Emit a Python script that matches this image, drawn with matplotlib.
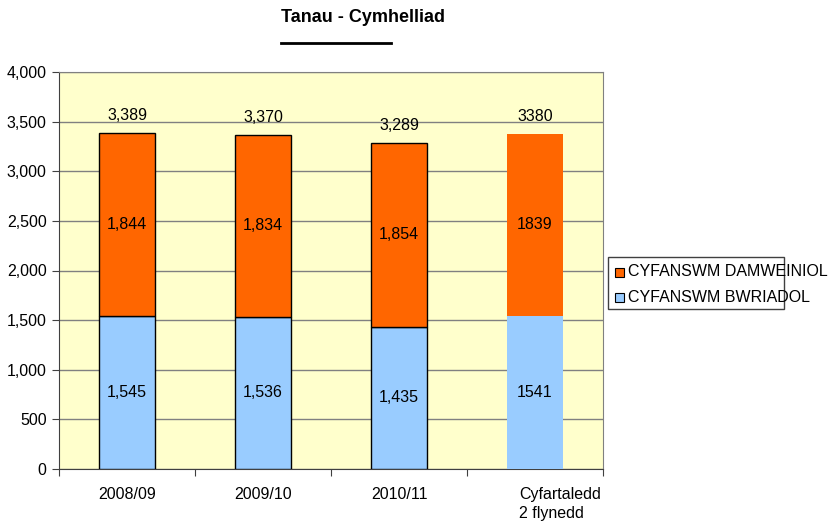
import matplotlib
matplotlib.use("Agg")
import matplotlib.pyplot as plt
from matplotlib.patches import Rectangle
from matplotlib.lines import Line2D
from matplotlib.transforms import ScaledTranslation

plt.rcParams['font.family'] = ['Liberation Sans', 'DejaVu Sans']

categories = ["2008/09", "2009/10", "2010/11", "Cyfartaledd\n2 flynedd"]
bwriadol = [1545, 1536, 1435, 1541]
damweiniol = [1844, 1834, 1854, 1839]
totals = [3389, 3370, 3289, 3380]
bwriadol_labels = ["1,545", "1,536", "1,435", "1541"]
damweiniol_labels = ["1,844", "1,834", "1,854", "1839"]
total_labels = ["3,389", "3,370", "3,289", "3380"]
yticks = [0, 500, 1000, 1500, 2000, 2500, 3000, 3500, 4000]

blue = "#99CCFF"
orange = "#FF6600"
fs = 11.5

fig = plt.figure(figsize=(8.3, 5.22), dpi=100)
ax = fig.add_axes([59/830, 53/522, 544/830, 397/522])
ax.set_facecolor("#FFFFCC")

x = list(range(len(categories)))
w = 0.41
edges = ["black", "black", "black", "none"]
for i in x:
    ax.bar(i, bwriadol[i], width=w, color=blue, edgecolor=edges[i], linewidth=1.0, zorder=3)
    ax.bar(i, damweiniol[i], bottom=bwriadol[i], width=w, color=orange, edgecolor=edges[i], linewidth=1.0, zorder=3)
    ax.text(i, bwriadol[i] / 2, bwriadol_labels[i], ha="center", va="center", fontsize=fs, zorder=4)
    ax.text(i, bwriadol[i] + damweiniol[i] / 2, damweiniol_labels[i], ha="center", va="center", fontsize=fs, zorder=4)
    ax.text(i, totals[i] + 170, total_labels[i], ha="center", va="center", fontsize=fs, zorder=4)

ax.set_xlim(-0.5, 3.5)
ax.set_ylim(0, 4000)
ax.set_yticks(yticks)
ax.set_yticklabels([f"{v:,}" for v in yticks], fontsize=fs)
ax.yaxis.grid(True, color="#808080", linewidth=1.0, zorder=1)
ax.set_axisbelow(True)
ax.set_xticks([-0.5, 0.5, 1.5, 2.5, 3.5])
ax.set_xticklabels([])
ax.set_xticks(x, minor=True)
ax.set_xticklabels(categories, minor=True, fontsize=fs, linespacing=1.3)
ax.tick_params(axis="x", which="minor", length=0, pad=13)
ax.tick_params(axis="x", which="major", length=5, direction="out", color="#404040")
ax.tick_params(axis="y", length=5, direction="out", color="#404040", pad=4)
last = ax.get_xticklabels(minor=True)[-1]
last.set_horizontalalignment("left")
last.set_multialignment("left")
last.set_transform(last.get_transform() + ScaledTranslation(-16/100, 0, fig.dpi_scale_trans))
for s in ["top", "right"]:
    ax.spines[s].set_color("#808080")
for s in ["left", "bottom"]:
    ax.spines[s].set_color("#404040")

fig.text(363/830, 1 - 17/522, "Tanau - Cymhelliad", ha="center", va="center", fontsize=13, fontweight="bold")
fig.add_artist(Line2D([281/830, 391/830], [1 - 43/522, 1 - 43/522], color="black", linewidth=2))

# legend box (text overflows the frame as in the reference)
fig.add_artist(Rectangle((608/830, 1 - 309/522), 176/830, 52/522, transform=fig.transFigure,
                         facecolor="white", edgecolor="#404040", linewidth=1.0, zorder=5))
leg_items = [("CYFANSWM DAMWEINIOL", orange, 272), ("CYFANSWM BWRIADOL", blue, 297)]
for label, col, yy in leg_items:
    fig.add_artist(Rectangle((615/830, 1 - (yy + 4.5) / 522), 9/830, 9/522, transform=fig.transFigure,
                             facecolor=col, edgecolor="black", linewidth=0.8, zorder=6))
    fig.text(628/830, 1 - yy / 522, label, ha="left", va="center", fontsize=fs, zorder=7)

fig.savefig("out.png", dpi=100)
